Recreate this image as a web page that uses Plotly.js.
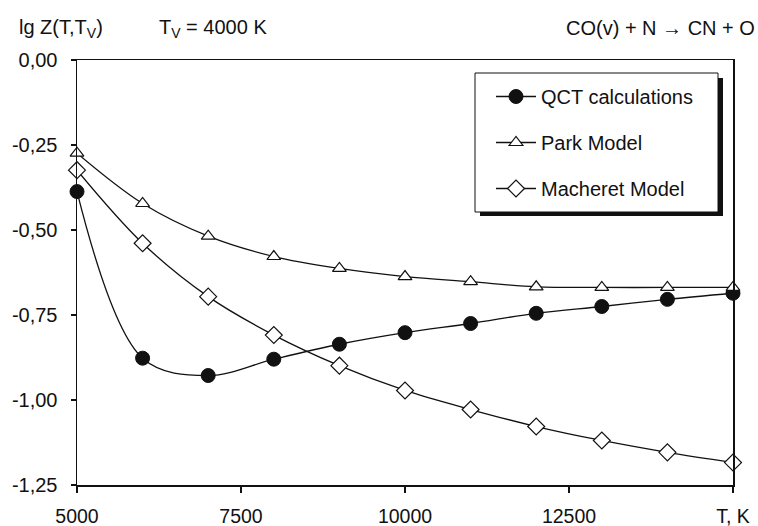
<!DOCTYPE html>
<html>
<head>
<meta charset="utf-8">
<script src="https://cdn.plot.ly/plotly-3.0.1.min.js"></script>
<style>html,body{margin:0;padding:0;background:#fff;}#chart{width:758px;height:526px;}</style>
</head>
<body>
<div id="chart"></div>
<script>
var temperatures = [5000, 6000, 7000, 8000, 9000, 10000, 11000, 12000, 13000, 14000, 15000];
var qct = [-0.387, -0.877, -0.928, -0.880, -0.836, -0.802, -0.775, -0.745, -0.725, -0.704, -0.686];
var park = [-0.274, -0.422, -0.518, -0.578, -0.613, -0.637, -0.652, -0.667, -0.669, -0.669, -0.669];
var macheret = [-0.324, -0.539, -0.696, -0.809, -0.899, -0.972, -1.028, -1.078, -1.119, -1.154, -1.184];
var xTickVals = [5000, 7500, 10000, 12500, 15000];
var xTickText = ['5000', '7500', '10000', '12500', 'T, K'];
var yTickVals = [0, -0.25, -0.5, -0.75, -1, -1.25];
var yTickText = ['0,00', '-0,25', '-0,50', '-0,75', '-1,00', '-1,25'];
var seriesNames = ['QCT calculations', 'Park Model', 'Macheret Model'];

var F = 'Liberation Sans, Arial, sans-serif';
var lineStyle = {color: '#111', width: 1.3, shape: 'spline', smoothing: 1};

var traces = [
  {x: temperatures, y: qct, name: seriesNames[0], mode: 'lines+markers', line: lineStyle,
   legendgroup: 'a', cliponaxis: false,
   marker: {symbol: 'circle', size: 14, color: '#111', line: {color: '#111', width: 1}}},
  {x: temperatures, y: park, name: seriesNames[1], mode: 'lines+markers', line: lineStyle,
   legendgroup: 'b', cliponaxis: false,
   marker: {symbol: 'triangle-up', size: 12, color: '#fff', line: {color: '#111', width: 1.2}}},
  {x: temperatures, y: macheret, name: seriesNames[2], mode: 'lines+markers', line: lineStyle,
   legendgroup: 'c', cliponaxis: false,
   marker: {symbol: 'diamond', size: 13, color: '#fff', line: {color: '#111', width: 1.2}}}
];

var L = 77, R = 733, T = 60, B = 485;
function px(x) { return (x - L) / (R - L); }
function py(y) { return (B - y) / (B - T); }

var layout = {
  width: 758, height: 526,
  margin: {l: L, r: 758 - R, t: T, b: 526 - B, pad: 0},
  paper_bgcolor: '#fff', plot_bgcolor: '#fff',
  font: {family: F, size: 20, color: '#111'},
  showlegend: true,
  legend: {x: px(491), y: py(77), xanchor: 'left', yanchor: 'top',
    bgcolor: 'rgba(0,0,0,0)', borderwidth: 0, tracegroupgap: 17, traceorder: 'grouped',
    itemwidth: 40, font: {family: F, size: 20, color: '#111'}},
  xaxis: {range: [5000, 15000], tickvals: xTickVals, ticktext: xTickText,
    showgrid: false, zeroline: false, showline: true, linecolor: '#111', linewidth: 1.5,
    mirror: true, ticks: 'outside', ticklen: 6, tickwidth: 1.5, tickcolor: '#111',
    ticklabelstandoff: 7, tickfont: {family: F, size: 19.5, color: '#111'}},
  yaxis: {range: [-1.25, 0], tickvals: yTickVals, ticktext: yTickText,
    showgrid: false, zeroline: false, showline: true, linecolor: '#111', linewidth: 1.5,
    mirror: true, ticks: 'outside', ticklen: 5, tickwidth: 1.5, tickcolor: '#111',
    ticklabelstandoff: 9, tickfont: {family: F, size: 20, color: '#111'}},
  shapes: [
    {type: 'rect', xref: 'paper', yref: 'paper', x0: px(480), x1: px(723), y0: py(216), y1: py(78),
     fillcolor: '#111', line: {width: 0}, layer: 'above'},
    {type: 'rect', xref: 'paper', yref: 'paper', x0: px(475), x1: px(718), y0: py(212), y1: py(73),
     fillcolor: '#fff', line: {color: '#111', width: 1}, layer: 'above'}
  ],
  annotations: [
    {text: 'lg Z(T,T<sub>V</sub>)', xref: 'paper', yref: 'paper', x: px(17), y: py(28),
     xanchor: 'left', yanchor: 'middle', showarrow: false, font: {family: F, size: 20, color: '#111'}},
    {text: 'T<sub>V</sub> = 4000 K', xref: 'paper', yref: 'paper', x: px(157), y: py(28),
     xanchor: 'left', yanchor: 'middle', showarrow: false, font: {family: F, size: 20, color: '#111'}},
    {text: 'CO(v) + N \u2192 CN + O', xref: 'paper', yref: 'paper', x: px(757), y: py(28),
     xanchor: 'right', yanchor: 'middle', showarrow: false, font: {family: F, size: 20, color: '#111'}}
  ]
};

Plotly.newPlot('chart', traces, layout, {displayModeBar: false, staticPlot: true});
</script>
</body>
</html>
